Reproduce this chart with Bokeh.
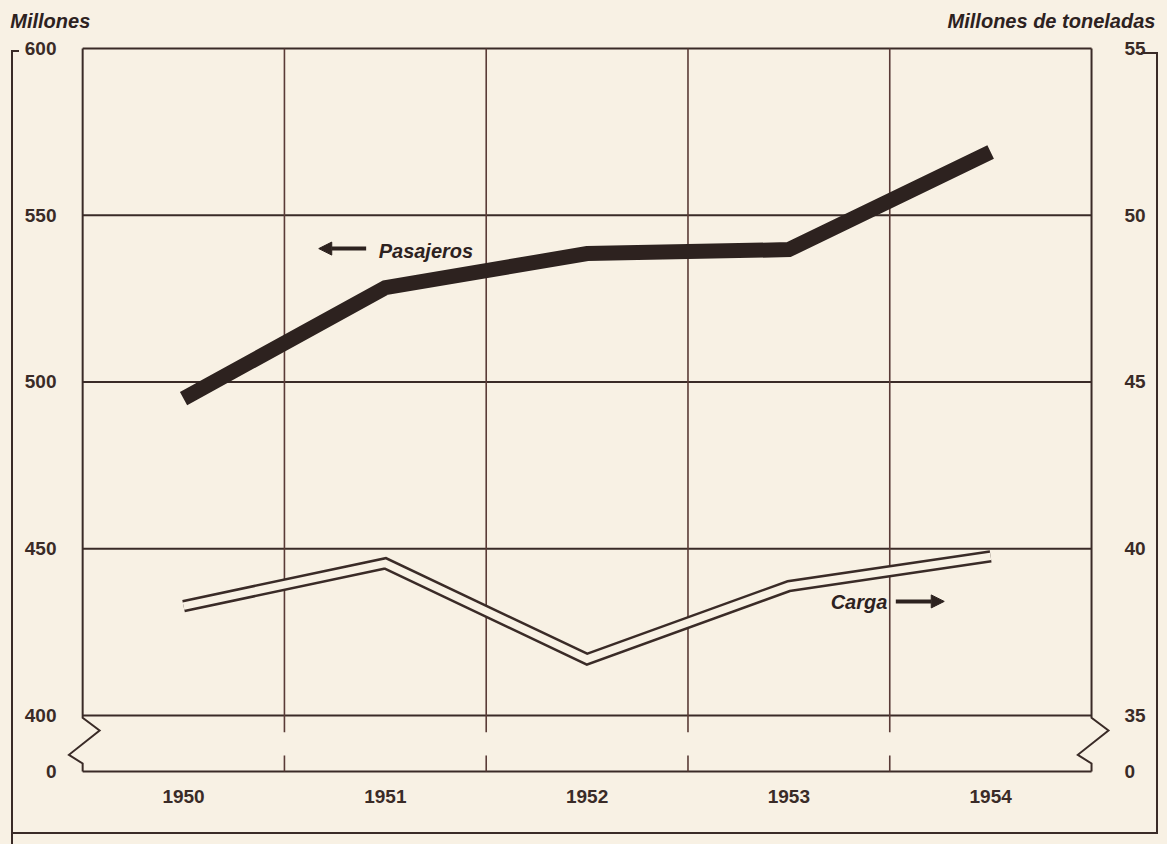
from bokeh.plotting import figure
from bokeh.models import (Range1d, LinearAxis, FixedTicker, Arrow, NormalHead)
from bokeh.core.properties import value
from bokeh.embed import file_html
from bokeh.resources import INLINE

# ---------------- data ----------------
years = [1950, 1951, 1952, 1953, 1954]
year_labels = ["1950", "1951", "1952", "1953", "1954"]
pasajeros = [495.0, 528.3, 538.5, 539.7, 569.0]      # millones (left axis)
carga = [38.28, 39.56, 36.69, 38.88, 39.77]          # millones de toneladas (right axis)
left_ticks = [400, 450, 500, 550, 600]
right_ticks = [35, 40, 45, 50, 55]
zero_label = "0"
left_title = "Millones"
right_title = "Millones de toneladas"
series_names = ["Pasajeros", "Carga"]

# ---------------- style / layout ----------------
BG = "#f8f1e4"
INK = "#3a2b27"
THICK = "#2d221f"
VGRID = "#5a3b37"
W, H = 1167, 844
FL, FR, FT, FB = 64, 57, 42, 68          # borders around the plot frame (px)

LEFT_BASE = 383.2            # position that stands for the broken "0"
LEFT_MIN, LEFT_MAX = 381.7, 601.8
X_MIN, X_MAX = 1949.41, 1954.594


def to_right(v):
    return 35 + (v - 400) / 10.0


def px_to_x(px):
    return X_MIN + (px - FL) * (X_MAX - X_MIN) / (W - FL - FR)


RIGHT_BASE = to_right(LEFT_BASE)
x_left = years[0] - 0.5
x_right = years[-1] + 0.5

# outer bracket drawn as CSS background bars (left, top, width, height)
bracket = [(11, 50, 2, 794), (11, 50, 8, 2), (1156, 52, 2, 782),
           (1141, 52, 17, 2), (11, 832, 1147, 2)]
css = {
    "background-color": BG,
    "background-image": ", ".join(["linear-gradient(%s, %s)" % (INK, INK)] * len(bracket)),
    "background-size": ", ".join("%dpx %dpx" % (w, h) for (_, _, w, h) in bracket),
    "background-position": ", ".join("%dpx %dpx" % (l, t) for (l, t, _, _) in bracket),
    "background-repeat": "no-repeat",
}

p = figure(width=W, height=H, output_backend="svg", toolbar_location=None,
           x_range=Range1d(X_MIN, X_MAX),
           y_range=Range1d(LEFT_MIN, LEFT_MAX),
           min_border_left=FL, min_border_right=FR,
           min_border_top=FT, min_border_bottom=FB,
           styles=css)
p.extra_y_ranges = {"right": Range1d(to_right(LEFT_MIN), to_right(LEFT_MAX))}

p.background_fill_color = BG
p.border_fill_color = BG
p.border_fill_alpha = 0.0
p.outline_line_color = None
p.xgrid.visible = False
p.ygrid.visible = False

tick_font = dict(major_label_text_font="Liberation Sans",
                 major_label_text_font_size="19px",
                 major_label_text_font_style="bold",
                 major_label_text_color=INK)


def plain(ax):
    ax.axis_line_color = None
    ax.major_tick_line_color = None
    ax.minor_tick_line_color = None


# left axis
ya = p.yaxis[0]
ya.ticker = FixedTicker(ticks=[LEFT_BASE] + left_ticks)
ya.major_label_overrides = {LEFT_BASE: zero_label}
plain(ya)
ya.major_label_standoff = 2
for k, v in tick_font.items():
    setattr(ya, k, v)

# right axis
ra = LinearAxis(y_range_name="right",
                ticker=FixedTicker(ticks=[RIGHT_BASE] + right_ticks))
ra.major_label_overrides = {RIGHT_BASE: zero_label}
plain(ra)
ra.major_label_standoff = 8
for k, v in tick_font.items():
    setattr(ra, k, v)
p.add_layout(ra, "right")

# bottom axis
xa = p.xaxis[0]
xa.ticker = FixedTicker(ticks=years)
xa.major_label_overrides = dict(zip(years, year_labels))
plain(xa)
xa.major_label_standoff = 7
for k, v in tick_font.items():
    setattr(xa, k, v)

# header axis: carries the two unit titles.  The left title is padded with
# non-breaking spaces so that its centre lies inside the frame while the
# visible word starts at the left edge, as in the original.
PAD = "\u00a0" * 8
t_left = px_to_x(72)
t_right = px_to_x(1051)
ha = LinearAxis(ticker=FixedTicker(ticks=[t_left, t_right]))
ha.major_label_overrides = {t_left: left_title + PAD, t_right: right_title}
plain(ha)
ha.major_label_standoff = 5
ha.major_label_text_font = "Liberation Sans"
ha.major_label_text_font_size = "20px"
ha.major_label_text_font_style = "bold italic"
ha.major_label_text_color = THICK
p.add_layout(ha, "above")

# ---------------- grid (drawn as glyphs because of the axis break) ----------------
hy = left_ticks + [LEFT_BASE]
p.segment(x0=[x_left] * len(hy), x1=[x_right] * len(hy), y0=hy, y1=hy,
          line_color=INK, line_width=2)

bounds = [y - 0.5 for y in years] + [x_right]
inner = bounds[1:-1]
gap_top, gap_bot = 395.0, 388.0
p.segment(x0=inner, x1=inner, y0=[left_ticks[-1]] * len(inner), y1=[gap_top] * len(inner),
          line_color=VGRID, line_width=1.6)
p.segment(x0=inner, x1=inner, y0=[gap_bot] * len(inner), y1=[LEFT_BASE] * len(inner),
          line_color=VGRID, line_width=1.6)

# outer edges with zig-zag break symbol
zz_dx = [0, 0, 0.084, -0.068, 0, 0]
zz_y = [left_ticks[-1], 399.3, 395.5, 388.2, 385.6, LEFT_BASE]
for xe in (x_left, x_right):
    p.line([xe + d for d in zz_dx], zz_y, line_color=INK, line_width=2,
           line_join="miter")

# ---------------- series ----------------
p.line(years, pasajeros, line_color=THICK, line_width=15,
       line_join="miter", line_cap="butt")

p.line(years, carga, y_range_name="right", line_color=INK, line_width=12.5,
       line_join="miter", line_cap="butt")
p.line(years, carga, y_range_name="right", line_color=BG, line_width=7.5,
       line_join="miter", line_cap="butt")

# series labels with arrows
p.text(x=[1950.967], y=[539.4], text=[series_names[0]],
       text_font=value("Liberation Sans"), text_font_style="bold italic",
       text_font_size="20px", text_color=THICK, text_baseline="middle")
p.add_layout(Arrow(end=NormalHead(size=13, fill_color=THICK, line_color=THICK),
                   x_start=1950.905, y_start=540.0, x_end=1950.67, y_end=540.0,
                   line_width=4, line_color=THICK))

p.text(x=[1953.207], y=[434.0], text=[series_names[1]],
       text_font=value("Liberation Sans"), text_font_style="bold italic",
       text_font_size="20px", text_color=THICK, text_baseline="middle")
p.add_layout(Arrow(end=NormalHead(size=13, fill_color=THICK, line_color=THICK),
                   x_start=1953.53, y_start=434.2, x_end=1953.77, y_end=434.2,
                   line_width=4, line_color=THICK))

html = file_html(p, INLINE)
open("out.html", "w").write(html)
